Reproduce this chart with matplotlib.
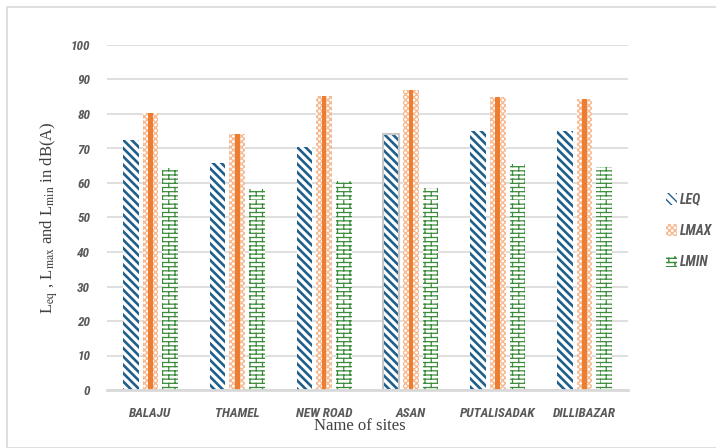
import numpy as np
import matplotlib
matplotlib.use("Agg")
import matplotlib.pyplot as plt
import matplotlib.hatch as mhatch
from matplotlib.path import Path
from matplotlib.patches import Rectangle

sites = ["BALAJU", "THAMEL", "NEW ROAD", "ASAN", "PUTALISADAK", "DILLIBAZAR"]
leq = [72.5, 65.7, 70.4, 74.1, 75.1, 75.1]
lmax = [80.4, 74.1, 85.2, 87.0, 84.8, 84.3]
lmin = [64.3, 58.2, 60.6, 58.6, 65.4, 64.6]
series_names = ["LEQ", "LMAX", "LMIN"]

BLUE = "#1f5f8b"
ORANGE = "#ed7d31"
PEACH = "#f6b990"
GREEN = "#3b8c3b"
GRID = "#d9d9d9"
TXT = "#595959"
COND = ["Liberation Sans Narrow", "Roboto Condensed", "DejaVu Sans"]


# brick hatch: rows of horizontal lines with staggered vertical joints.
# it takes the place of the 'O' pattern, which is not used here.
class BrickHatch(mhatch.HatchPatternBase):
    def __init__(self, hatch, density):
        self.rows = 24 if 'O' in hatch else 0
        self.cols = 8
        self.num_vertices = self.rows * 2 + self.rows * self.cols * 2

    def set_vertices_and_codes(self, vertices, codes):
        h = 1.0 / self.rows
        w = 1.0 / self.cols
        i = 0
        for r in range(self.rows):
            y = r * h
            vertices[i] = (0.0, y)
            vertices[i + 1] = (1.0, y)
            codes[i] = Path.MOVETO
            codes[i + 1] = Path.LINETO
            i += 2
            off = 0.5 * w if r % 2 else 0.0
            for c in range(self.cols):
                x = c * w + off
                vertices[i] = (x, y)
                vertices[i + 1] = (x, y + h)
                codes[i] = Path.MOVETO
                codes[i + 1] = Path.LINETO
                i += 2


mhatch._hatch_types = [BrickHatch if t is mhatch.LargeCircles else t
                       for t in mhatch._hatch_types]

plt.rcParams['mathtext.fontset'] = 'stix'

fig = plt.figure(figsize=(7.16, 4.48), dpi=100)
ax = fig.add_axes([107 / 716, 58 / 448, 521 / 716, 345 / 448])

x = np.arange(len(sites))
w = 0.18
step = 0.227


def hatched_bar(xs, vals, color, hatch, lw, **kw):
    with plt.rc_context({'hatch.linewidth': lw}):
        bars = ax.bar(xs, vals, w, facecolor='white', edgecolor=color,
                      linewidth=0, hatch=hatch, zorder=3, **kw)
    for b in bars:
        if hasattr(b, 'set_hatch_linewidth'):
            b.set_hatch_linewidth(lw)
    return bars


b_leq = hatched_bar(x - step, leq, BLUE, '\\' * 4, 1.9, label=series_names[0])
b_max = hatched_bar(x, lmax, PEACH, 'x' * 6, 1.0, label=series_names[1])
# solid centre stripe of the LMAX bars
ax.bar(x, lmax, w * 0.3, color=ORANGE, linewidth=0, zorder=4)
b_min = hatched_bar(x + step, lmin, GREEN, 'O', 0.9, label=series_names[2])

# the ASAN LEQ bar carries a light outline
ax.bar(x[3] - step, leq[3], w, facecolor='none', edgecolor='#c8c8c8',
       linewidth=1.5, zorder=5)

ax.set_xlim(-0.5, len(sites) - 0.5)
ax.set_ylim(0, 100)
ax.set_yticks(np.arange(0, 101, 10))
ax.yaxis.grid(True, color=GRID, linewidth=1.2, zorder=0)
ax.set_axisbelow(True)
for s in ["top", "right", "left"]:
    ax.spines[s].set_visible(False)
ax.spines["bottom"].set_color(GRID)
ax.spines["bottom"].set_linewidth(2)
ax.spines["bottom"].set_zorder(6)
ax.tick_params(length=0)
ax.tick_params(axis='y', pad=12)
ax.tick_params(axis='x', pad=12)

tick_font = dict(family=COND, style="italic", weight="bold",
                 size=9.5, color=TXT)
ax.set_xticks(x)
ax.set_xticklabels(sites, **tick_font)
for t in ax.get_yticklabels():
    t.set(**tick_font)

ax.set_ylabel(r'L$_{\rm eq}$ , L$_{\rm max}$ and L$_{\rm min}$ in dB(A)',
              family="Liberation Serif", size=12, color="#404040", labelpad=8)
fig.text(360 / 716, 1 - 426 / 448, "Name of sites", family="Liberation Serif",
         size=12, color="#404040", ha="center", va="center")

leg = fig.legend(handles=[b_leq, b_max, b_min], labels=series_names,
                 loc="center left", bbox_to_anchor=(653 / 716, 1 - 231 / 448),
                 frameon=False, handlelength=0.8, handleheight=0.9,
                 labelspacing=1.25, handletextpad=0.25)
for t in leg.get_texts():
    t.set(family=COND, style="italic", weight="bold", size=10, color=TXT)

# outer chart frame
fig.patches.append(Rectangle((7 / 716, 0), 2.0, 1 - 7 / 448,
                             transform=fig.transFigure, fill=False,
                             edgecolor=GRID, linewidth=1.2))

fig.savefig("out.png", dpi=100)
